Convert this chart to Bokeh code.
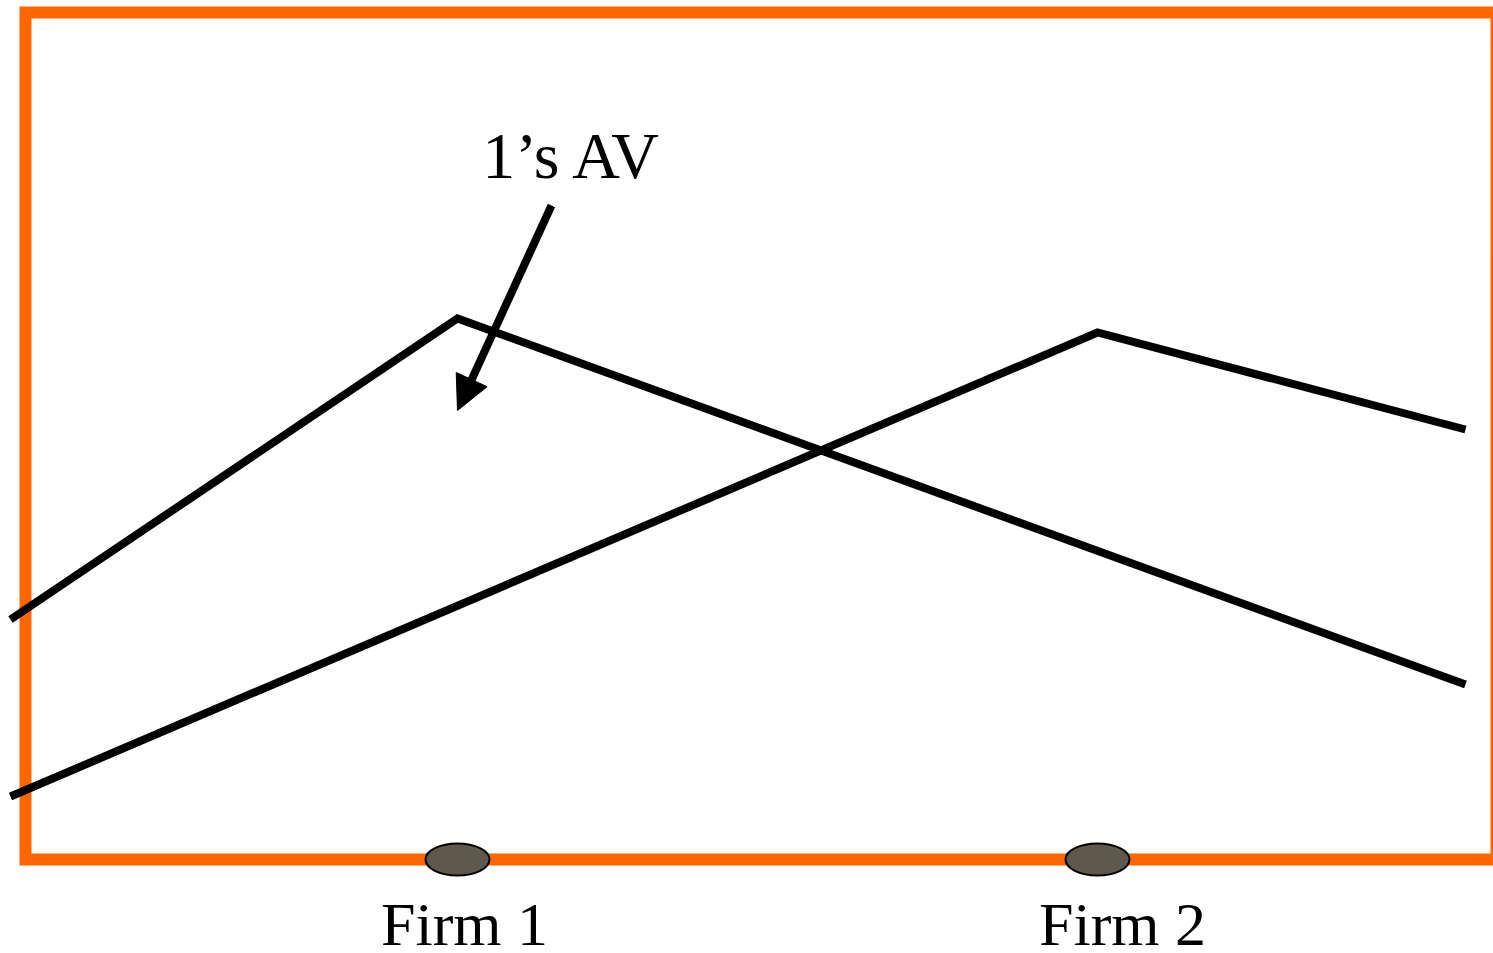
from bokeh.plotting import figure
from bokeh.models import Range1d, Arrow, NormalHead
from bokeh.core.properties import value
from bokeh.embed import file_html
from bokeh.resources import INLINE

# --- data (diagram coordinates: page pixels, y grows downward) ---
firm_names = ["Firm 1", "Firm 2"]
firm_x = [457, 1097]
firm_label_x = [464, 1122]
firm_label_y = 923
market_y = 859
market_left, market_right, market_top = 25, 1496, 12

av1_x = [10, 457, 1465]          # firm 1's attraction value curve
av1_y = [619, 318, 684]
av2_x = [10, 1097, 1465]         # firm 2's attraction value curve
av2_y = [796, 332, 429]

annot_text = "1\u2019s AV"
annot_xy = (572, 155)
arrow_start = (551, 205)
arrow_end = (457, 410)

W, H = 1493, 953
p = figure(width=W, height=H, output_backend="svg", toolbar_location=None,
           x_range=Range1d(0, W), y_range=Range1d(H, 0),
           min_border=0, outline_line_color=None, background_fill_color="white",
           border_fill_color="white")
p.axis.visible = False
p.grid.visible = False

# market frame
p.quad(left=[market_left], right=[market_right], top=[market_top], bottom=[market_y],
       fill_color=None, line_color="#ff6600", line_width=12, line_join="miter")

# curves
p.line(av1_x, av1_y, line_color="black", line_width=8, line_join="miter")
p.line(av2_x, av2_y, line_color="black", line_width=8, line_join="miter")

# firms
p.ellipse(x=firm_x, y=[market_y] * len(firm_x), width=64, height=32,
          fill_color="#5f584d", line_color="black", line_width=2)

p.text(x=firm_label_x, y=[firm_label_y] * len(firm_x), text=firm_names,
       text_font=value("Liberation Serif"), text_font_size="62px",
       text_align="center", text_baseline="alphabetic", text_color="black")

# annotation
p.text(x=[annot_xy[0]], y=[annot_xy[1]], text=[annot_text],
       text_font=value("Liberation Serif"), text_font_size="66px",
       text_align="center", text_baseline="alphabetic", text_color="black")
p.add_layout(Arrow(end=NormalHead(size=34, fill_color="black", line_color="black"),
                   x_start=arrow_start[0], y_start=arrow_start[1],
                   x_end=arrow_end[0], y_end=arrow_end[1],
                   line_width=8, line_color="black"))

open("out.html", "w").write(file_html(p, INLINE))
